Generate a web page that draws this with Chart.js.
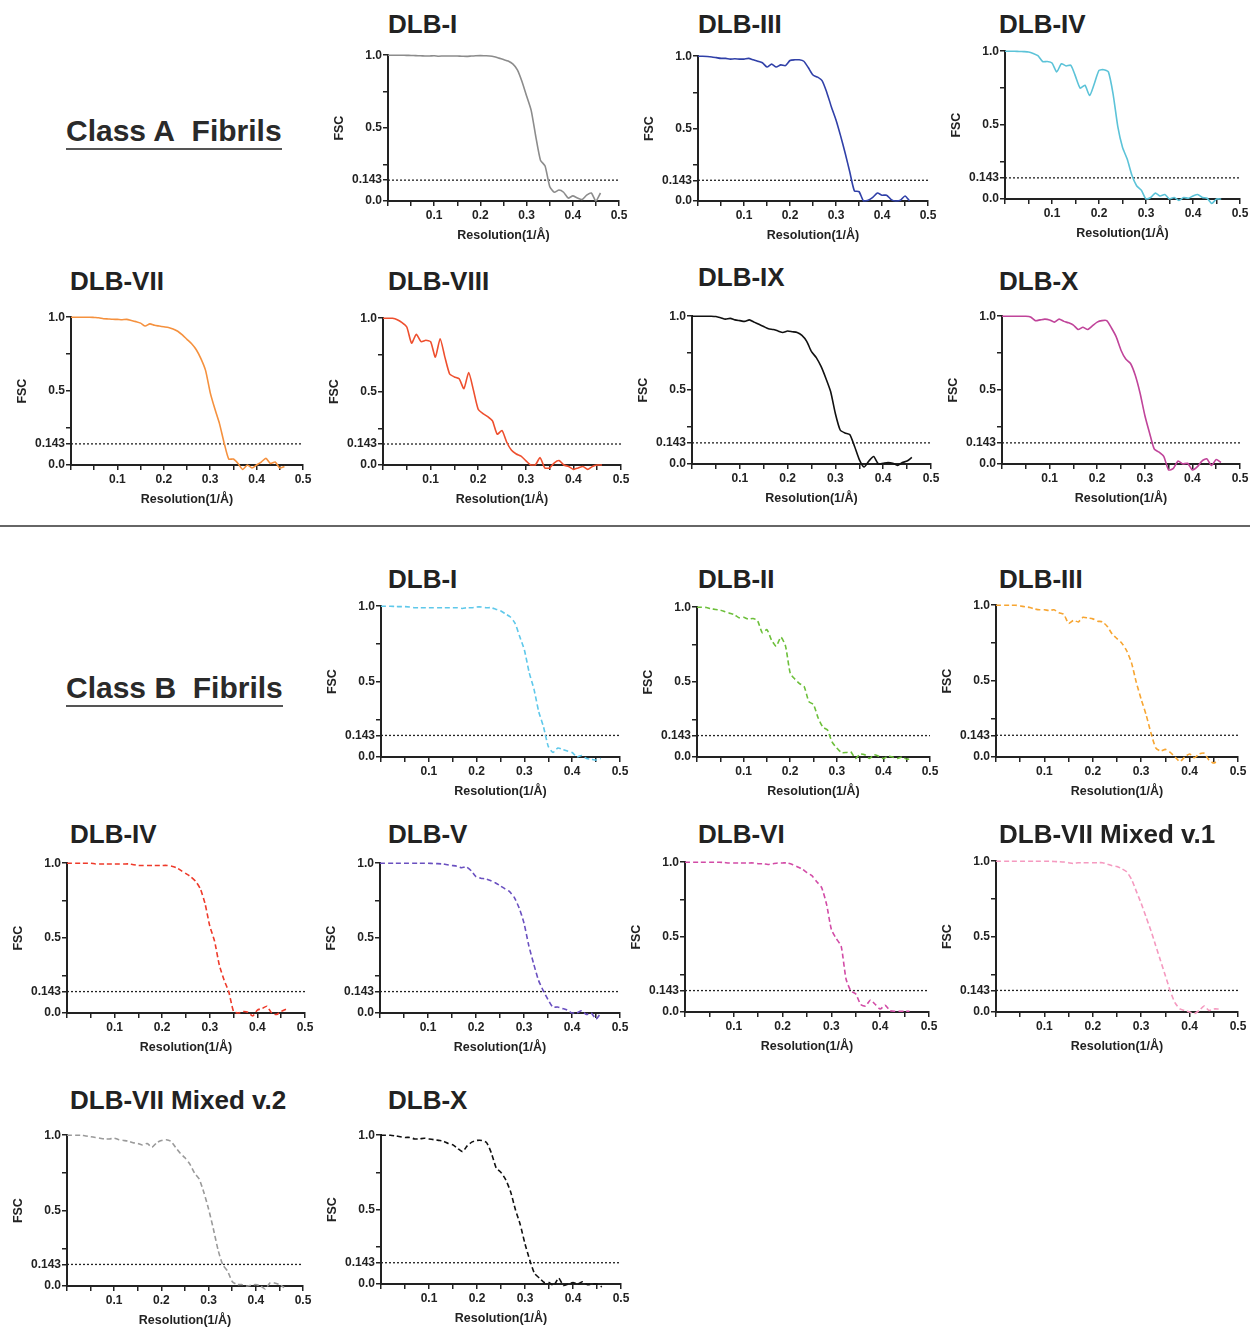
<!DOCTYPE html>
<html>
<head>
<meta charset="utf-8">
<script src="https://cdn.jsdelivr.net/npm/chart.js@4.4.1/dist/chart.umd.min.js"></script>
<style>
  body { margin: 0; background: #fff; width: 1250px; height: 1327px; position: relative; overflow: hidden;
         font-family: "Liberation Sans", Arial, sans-serif; }
  .ttl { position: absolute; font-weight: bold; font-size: 26px; color: #222; line-height: 1; white-space: nowrap; }
  .cls { position: absolute; font-weight: bold; font-size: 30px; color: #2a2a2a; line-height: 1;
         border-bottom: 2px solid #555; padding-bottom: 2px; white-space: nowrap; }
  .sep { position: absolute; left: 0; width: 1250px; top: 525px; border-top: 2px solid #666; }
  canvas { position: absolute; }
</style>
</head>
<body>
<div class="cls" style="left:66px; top:116px">Class A&nbsp; Fibrils</div>
<div class="sep"></div>
<div class="cls" style="left:66px; top:673px">Class B&nbsp; Fibrils</div>

<script>
// resolution grid (1/Å)
const resolution = [0, 0.01, 0.02, 0.03, 0.04, 0.05, 0.06, 0.07, 0.08, 0.09,
  0.10, 0.11, 0.12, 0.13, 0.14, 0.15, 0.16, 0.17, 0.18, 0.19,
  0.20, 0.21, 0.22, 0.23, 0.24, 0.25, 0.26, 0.27, 0.28, 0.29,
  0.30, 0.31, 0.32, 0.33, 0.34, 0.35, 0.36, 0.37, 0.38, 0.39,
  0.40, 0.41, 0.42, 0.43, 0.44, 0.45, 0.46];

const xTicks = [0, 0.05, 0.1, 0.15, 0.2, 0.25, 0.3, 0.35, 0.4, 0.45, 0.5];
const yTicks = [0, 0.143, 0.25, 0.5, 0.75, 1.0];
const yLabels = [0, 0.143, 0.5, 1.0];
const cutoff = 0.143;

// Class A fibrils (solid lines)
const classA_I = [1.0, 1.0, 1.0, 1.0, 0.999, 0.998, 0.997, 0.996, 0.995, 0.995,
  0.996, 0.993, 0.995, 0.994, 0.995, 0.994, 0.993, 0.992, 0.994, 0.996,
  0.997, 0.996, 0.995, 0.99, 0.98, 0.97, 0.96, 0.94, 0.90, 0.82,
  0.72, 0.62, 0.44, 0.28, 0.24, 0.10, 0.06, 0.075, 0.06, 0.02,
  0.035, 0.02, 0.01, 0.04, 0.055, 0.0, 0.055];
const classA_III = [1.0, 1.0, 0.998, 0.995, 0.99, 0.985, 0.985, 0.98, 0.982, 0.98,
  0.98, 0.985, 0.975, 0.965, 0.955, 0.925, 0.945, 0.925, 0.94, 0.935,
  0.97, 0.975, 0.975, 0.965, 0.92, 0.87, 0.855, 0.83, 0.75, 0.65,
  0.56, 0.45, 0.33, 0.20, 0.07, 0.065, 0.0, 0.005, 0.025, 0.055,
  0.04, 0.04, 0.01, 0.0, 0.005, 0.035, 0.0];
const classA_IV = [1.0, 1.0, 1.0, 0.998, 0.997, 0.995, 0.985, 0.97, 0.93, 0.93,
  0.92, 0.86, 0.915, 0.9, 0.905, 0.83, 0.75, 0.77, 0.70, 0.78,
  0.87, 0.875, 0.86, 0.71, 0.49, 0.35, 0.27, 0.16, 0.09, 0.06,
  0.0, 0.01, 0.04, 0.02, 0.03, 0.0, 0.01, -0.01, 0.01, 0.005,
  0.02, 0.03, 0.01, 0.005, -0.03, 0.0, 0.0];
const classA_VII = [1.0, 1.0, 1.0, 1.0, 1.0, 0.998, 0.996, 0.99, 0.988, 0.986,
  0.985, 0.983, 0.985, 0.978, 0.97, 0.96, 0.94, 0.955, 0.945, 0.94,
  0.935, 0.93, 0.92, 0.905, 0.88, 0.85, 0.82, 0.78, 0.72, 0.64,
  0.49, 0.38, 0.28, 0.15, 0.04, 0.04, 0.01, -0.03, 0.0, -0.02,
  0.0, 0.02, 0.045, 0.01, 0.02, -0.02, -0.01];
const classA_VIII = [1.0, 1.0, 1.0, 0.99, 0.97, 0.94, 0.83, 0.89, 0.84, 0.85,
  0.84, 0.735, 0.86, 0.735, 0.62, 0.60, 0.587, 0.52, 0.63, 0.51,
  0.38, 0.35, 0.33, 0.30, 0.21, 0.235, 0.155, 0.10, 0.075, 0.06,
  0.03, 0.0, 0.0, 0.05, -0.02, -0.02, 0.015, 0.03, 0.0, -0.01,
  -0.03, -0.02, -0.01, -0.03, -0.01, 0.0, 0.0];
const classA_IX = [1.0, 1.0, 1.0, 1.0, 1.0, 0.998, 0.99, 0.98, 0.985, 0.975,
  0.97, 0.965, 0.975, 0.96, 0.945, 0.93, 0.915, 0.91, 0.90, 0.89,
  0.90, 0.895, 0.89, 0.87, 0.83, 0.76, 0.72, 0.66, 0.58, 0.49,
  0.34, 0.23, 0.21, 0.20, 0.12, 0.03, -0.02, 0.02, 0.05, 0.0,
  0.005, 0.01, 0.005, -0.01, 0.01, 0.02, 0.045];
const classA_X = [1.0, 1.0, 1.0, 1.0, 1.0, 1.0, 0.995, 0.97, 0.975, 0.98,
  0.975, 0.96, 0.98, 0.965, 0.955, 0.94, 0.91, 0.925, 0.91, 0.935,
  0.96, 0.97, 0.97, 0.92, 0.86, 0.77, 0.71, 0.68, 0.60, 0.48,
  0.33, 0.21, 0.10, 0.08, 0.05, -0.04, -0.03, 0.02, 0.0, 0.005,
  -0.04, -0.02, 0.02, 0.035, -0.01, 0.03, 0.01];

// Class B fibrils (dashed lines)
const classB_I = [1.0, 1.0, 1.0, 0.998, 0.997, 0.997, 0.995, 0.99, 0.99, 0.99,
  0.99, 0.99, 0.99, 0.99, 0.99, 0.99, 0.99, 0.985, 0.99, 0.99,
  0.995, 0.995, 0.99, 0.99, 0.98, 0.97, 0.95, 0.93, 0.89, 0.80,
  0.71, 0.56, 0.45, 0.30, 0.20, 0.07, 0.03, 0.06, 0.05, 0.04,
  0.03, 0.0, 0.01, -0.01, -0.015, -0.02, -0.01];
const classB_II = [1.0, 1.0, 0.998, 0.99, 0.985, 0.98, 0.97, 0.96, 0.95, 0.93,
  0.933, 0.92, 0.925, 0.91, 0.83, 0.85, 0.78, 0.74, 0.80, 0.74,
  0.56, 0.52, 0.49, 0.47, 0.37, 0.35, 0.26, 0.20, 0.18, 0.10,
  0.06, 0.03, 0.03, 0.035, -0.01, 0.02, 0.015, -0.01, 0.015, 0.005,
  -0.01, 0.005, 0.0, -0.01, 0.0, -0.015, -0.01];
const classB_III = [1.0, 1.0, 1.0, 1.0, 1.0, 0.995, 0.99, 0.985, 0.975, 0.97,
  0.97, 0.965, 0.97, 0.95, 0.94, 0.88, 0.90, 0.89, 0.92, 0.915,
  0.91, 0.895, 0.89, 0.86, 0.81, 0.78, 0.75, 0.70, 0.62, 0.49,
  0.38, 0.28, 0.16, 0.06, 0.04, 0.05, 0.03, 0.0, -0.03, 0.0,
  0.02, -0.005, 0.02, 0.025, -0.02, -0.04, -0.02];
const classB_IV = [1.0, 1.0, 1.0, 1.0, 1.0, 1.0, 0.995, 0.995, 0.995, 0.995,
  0.995, 0.995, 0.995, 0.995, 0.99, 0.985, 0.985, 0.985, 0.985, 0.985,
  0.985, 0.985, 0.98, 0.97, 0.95, 0.93, 0.91, 0.88, 0.83, 0.73,
  0.58, 0.48, 0.32, 0.22, 0.14, 0.01, 0.0, 0.01, 0.005, -0.02,
  0.02, 0.03, 0.045, 0.0, -0.01, 0.01, 0.025];
const classB_V = [1.0, 1.0, 1.0, 1.0, 1.0, 1.0, 1.0, 1.0, 1.0, 1.0,
  1.0, 0.998, 0.997, 0.995, 0.99, 0.985, 0.98, 0.97, 0.975, 0.95,
  0.91, 0.90, 0.895, 0.885, 0.87, 0.85, 0.83, 0.81, 0.77, 0.70,
  0.60, 0.45, 0.33, 0.22, 0.15, 0.09, 0.04, 0.04, 0.03, 0.02,
  0.0, 0.0, 0.015, -0.01, 0.0, -0.04, 0.0];
const classB_VI = [1.0, 1.0, 1.0, 1.0, 1.0, 1.0, 1.0, 1.0, 0.998, 0.995,
  0.995, 0.995, 0.995, 0.995, 0.995, 0.99, 0.99, 0.985, 0.99, 0.995,
  0.995, 0.995, 0.985, 0.97, 0.955, 0.93, 0.91, 0.87, 0.83, 0.72,
  0.55, 0.49, 0.44, 0.22, 0.14, 0.12, 0.05, 0.04, 0.08, 0.05,
  0.02, 0.045, 0.01, 0.005, 0.005, 0.005, 0.005];
const classB_VII1 = [1.0, 1.0, 1.0, 1.0, 1.0, 1.0, 1.0, 1.0, 1.0, 1.0,
  1.0, 1.0, 0.998, 0.997, 0.995, 0.99, 0.985, 0.99, 0.99, 0.99,
  0.99, 0.99, 0.99, 0.98, 0.97, 0.965, 0.95, 0.93, 0.88, 0.80,
  0.72, 0.63, 0.54, 0.44, 0.34, 0.24, 0.14, 0.06, 0.02, 0.01,
  0.0, -0.01, 0.01, 0.04, 0.01, 0.02, 0.02];
const classB_VII2 = [1.0, 1.0, 1.0, 1.0, 0.995, 0.99, 0.985, 0.98, 0.975, 0.975,
  0.98, 0.97, 0.965, 0.96, 0.95, 0.945, 0.935, 0.945, 0.92, 0.95,
  0.965, 0.97, 0.96, 0.92, 0.88, 0.85, 0.81, 0.75, 0.71, 0.62,
  0.51, 0.38, 0.24, 0.14, 0.10, 0.03, 0.01, 0.01, 0.0, 0.005,
  0.01, 0.0, -0.02, 0.02, 0.02, 0.01, -0.01];
const classB_X = [1.0, 1.0, 1.0, 0.995, 0.99, 0.985, 0.985, 0.975, 0.975, 0.98,
  0.975, 0.97, 0.965, 0.96, 0.945, 0.935, 0.91, 0.89, 0.93, 0.955,
  0.965, 0.965, 0.95, 0.88, 0.78, 0.75, 0.70, 0.62, 0.50, 0.40,
  0.27, 0.16, 0.07, 0.04, 0.01, 0.01, -0.01, 0.04, -0.01, 0.0,
  0.01, 0.0, 0.015, -0.005, 0.0, 0.0, -0.02];

// panel placement: ax = y-axis x, top = y(1.0), right = x(0.5), bottom = y(0.0), tx/ty = title
const panels = [
  { title: 'DLB-I',    fsc: classA_I,    color: '#8c8c8c', dash: false, ax: 388, top: 55,  right: 619, bottom: 201, tx: 388, ty: 24 },
  { title: 'DLB-III',  fsc: classA_III,  color: '#3040a8', dash: false, ax: 698, top: 56,  right: 928, bottom: 201, tx: 698, ty: 24 },
  { title: 'DLB-IV',   fsc: classA_IV,   color: '#5cc3d8', dash: false, ax: 1005, top: 51, right: 1240, bottom: 199, tx: 999, ty: 24 },
  { title: 'DLB-VII',  fsc: classA_VII,  color: '#f5913e', dash: false, ax: 71,  top: 317, right: 303, bottom: 465, tx: 70,  ty: 281 },
  { title: 'DLB-VIII', fsc: classA_VIII, color: '#ee4f2e', dash: false, ax: 383, top: 318, right: 621, bottom: 465, tx: 388, ty: 281 },
  { title: 'DLB-IX',   fsc: classA_IX,   color: '#111111', dash: false, ax: 692, top: 316, right: 931, bottom: 464, tx: 698, ty: 277 },
  { title: 'DLB-X',    fsc: classA_X,    color: '#c0449a', dash: false, ax: 1002, top: 316, right: 1240, bottom: 464, tx: 999, ty: 281 },

  { title: 'DLB-I',    fsc: classB_I,    color: '#5ec8ea', dash: true, ax: 381, top: 606, right: 620, bottom: 757, tx: 388, ty: 579 },
  { title: 'DLB-II',   fsc: classB_II,   color: '#6cbf3a', dash: true, ax: 697, top: 607, right: 930, bottom: 757, tx: 698, ty: 579 },
  { title: 'DLB-III',  fsc: classB_III,  color: '#f7a531', dash: true, ax: 996, top: 605, right: 1238, bottom: 757, tx: 999, ty: 579 },
  { title: 'DLB-IV',   fsc: classB_IV,   color: '#ee3a2a', dash: true, ax: 67,  top: 863, right: 305, bottom: 1013, tx: 70, ty: 834 },
  { title: 'DLB-V',    fsc: classB_V,    color: '#6a50c0', dash: true, ax: 380, top: 863, right: 620, bottom: 1013, tx: 388, ty: 834 },
  { title: 'DLB-VI',   fsc: classB_VI,   color: '#d24ba6', dash: true, ax: 685, top: 862, right: 929, bottom: 1012, tx: 698, ty: 834 },
  { title: 'DLB-VII Mixed v.1', fsc: classB_VII1, color: '#f59ac0', dash: true, ax: 996, top: 861, right: 1238, bottom: 1012, tx: 999, ty: 834 },
  { title: 'DLB-VII Mixed v.2', fsc: classB_VII2, color: '#9a9a9a', dash: true, ax: 67, top: 1135, right: 303, bottom: 1286, tx: 70, ty: 1100 },
  { title: 'DLB-X',    fsc: classB_X,    color: '#111111', dash: true, ax: 381, top: 1135, right: 621, bottom: 1284, tx: 388, ty: 1100 }
];

const AXIS_W = 60, AXIS_H = 46, PAD_T = 8, PAD_R = 14;
const ink = '#222';
const tickFont = { family: 'Liberation Sans', size: 12, weight: 'bold' };
const titleFont = { family: 'Liberation Sans', size: 12.5, weight: 'bold' };

panels.forEach(p => {
  const t = document.createElement('div');
  t.className = 'ttl';
  t.textContent = p.title;
  t.style.left = p.tx + 'px';
  t.style.top = (p.ty - 13) + 'px';
  document.body.appendChild(t);

  const cv = document.createElement('canvas');
  const w = AXIS_W + (p.right - p.ax) + PAD_R;
  const h = PAD_T + (p.bottom - p.top) + AXIS_H;
  cv.width = w; cv.height = h;
  cv.style.left = (p.ax - AXIS_W) + 'px';
  cv.style.top = (p.top - PAD_T) + 'px';
  cv.style.width = w + 'px'; cv.style.height = h + 'px';
  document.body.appendChild(cv);

  new Chart(cv, {
    type: 'line',
    data: {
      datasets: [
        {
          data: resolution.map((x, i) => ({ x: x, y: p.fsc[i] })),
          borderColor: p.color,
          borderWidth: 1.6,
          borderDash: p.dash ? [5, 3] : [],
          pointRadius: 0,
          tension: 0.2,
          clip: false
        },
        {
          data: [{ x: 0, y: cutoff }, { x: 0.5, y: cutoff }],
          borderColor: ink,
          borderWidth: 1.3,
          borderDash: [2, 2],
          pointRadius: 0
        }
      ]
    },
    options: {
      responsive: false,
      animation: false,
      devicePixelRatio: 1,
      layout: { padding: { top: PAD_T, right: PAD_R, left: 0, bottom: 0 } },
      plugins: { legend: { display: false }, tooltip: { enabled: false } },
      scales: {
        x: {
          type: 'linear', min: 0, max: 0.5,
          afterBuildTicks: s => { s.ticks = xTicks.map(v => ({ value: v })); },
          afterFit: s => { s.height = AXIS_H; },
          ticks: {
            color: ink, font: tickFont, padding: 2, maxRotation: 0, autoSkip: false,
            callback: v => (Math.round(v * 100) % 10 === 0 && v > 0) ? v.toFixed(1) : ''
          },
          grid: { drawOnChartArea: false, drawTicks: true, tickLength: 5, color: ink, lineWidth: 1.5 },
          border: { display: true, color: ink, width: 2 },
          title: { display: true, text: 'Resolution(1/Å)', color: ink, font: titleFont, padding: { top: 2, bottom: 4 } }
        },
        y: {
          type: 'linear', min: 0, max: 1,
          afterBuildTicks: s => { s.ticks = yTicks.map(v => ({ value: v })); },
          afterFit: s => { s.width = AXIS_W; },
          ticks: {
            color: ink, font: tickFont, padding: 1, autoSkip: false,
            callback: v => yLabels.includes(v) ? (v === cutoff ? '0.143' : v.toFixed(1)) : ''
          },
          grid: { drawOnChartArea: false, drawTicks: true, tickLength: 5, color: ink, lineWidth: 1.5 },
          border: { display: true, color: ink, width: 2 },
          title: { display: true, text: 'FSC', color: ink, font: titleFont, padding: { top: 4, bottom: 2 } }
        }
      }
    }
  });
});
</script>
</body>
</html>
